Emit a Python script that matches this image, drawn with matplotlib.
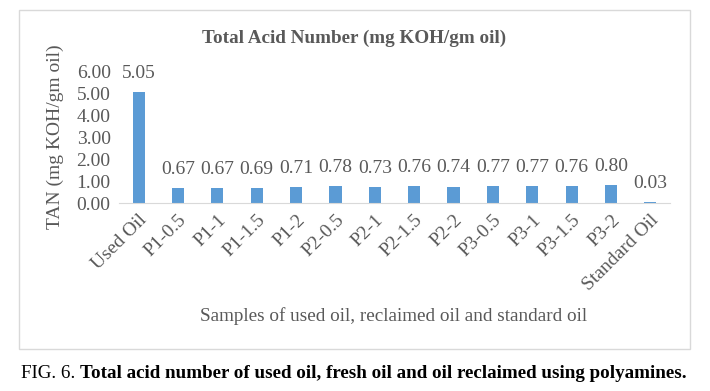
import matplotlib.pyplot as plt
from matplotlib.patches import Rectangle

# data
samples = ['Used Oil', 'P1-0.5', 'P1-1', 'P1-1.5', 'P1-2', 'P2-0.5', 'P2-1',
           'P2-1.5', 'P2-2', 'P3-0.5', 'P3-1', 'P3-1.5', 'P3-2', 'Standard Oil']
tan_values = [5.05, 0.67, 0.67, 0.69, 0.71, 0.78, 0.73,
              0.76, 0.74, 0.77, 0.77, 0.76, 0.80, 0.03]
y_ticks = [0, 1, 2, 3, 4, 5, 6]

W, H = 710, 391
plt.rcParams['font.family'] = 'Liberation Serif'
grey = '#595959'
blue = '#5B9BD5'
fs = 14

fig = plt.figure(figsize=(W / 100, H / 100), dpi=100)

def px(x0, y0, x1, y1):
    # pixel box (top-left origin) -> figure fraction [l, b, w, h]
    return [x0 / W, 1 - y1 / H, (x1 - x0) / W, (y1 - y0) / H]

# chart frame
fig.patches.append(Rectangle((19 / W, 1 - 349 / H), 671 / W, 339 / H,
                             transform=fig.transFigure, fill=False,
                             edgecolor='#D9D9D9', lw=1))

ax = fig.add_axes(px(119, 71, 670, 203))
x = range(len(samples))
bars = ax.bar(x, tan_values, width=0.31, color=blue)
ax.set_xlim(-0.5, len(samples) - 0.5)
ax.set_ylim(0, 6)

for xi, v in zip(x, tan_values):
    ax.annotate(f"{v:.2f}", (xi, v), xytext=(0, 13.5), textcoords='offset points',
                ha='center', va='center', fontsize=fs, color=grey)

ax.set_yticks(y_ticks)
ax.set_yticklabels([f"{t:.2f}" for t in y_ticks], fontsize=fs, color=grey)
ax.set_xticks(list(x))
ax.set_xticklabels(samples, rotation=45, ha='right', rotation_mode='anchor',
                   fontsize=fs, color=grey)
ax.tick_params(length=0, pad=6)
for s in ['top', 'right', 'left']:
    ax.spines[s].set_visible(False)
ax.spines['bottom'].set_color('#D9D9D9')

fig.text(55 / W, 1 - 137 / H, 'TAN (mg KOH/gm oil)', rotation=90, ha='center',
         va='center', fontsize=fs, color=grey)

fig.text(354 / W, 1 - 38 / H, 'Total Acid Number (mg KOH/gm oil)', ha='center',
         va='center', fontsize=13.8, fontweight='bold', color=grey)
fig.text(394 / W, 1 - 316 / H, 'Samples of used oil, reclaimed oil and standard oil',
         ha='center', va='center', fontsize=13.8, color=grey)

# caption below the chart
cap_fs = 13.7
t1 = fig.text(21 / W, 1 - 374 / H, 'FIG. 6. ', ha='left', va='center',
              fontsize=cap_fs, color='black')
fig.canvas.draw()
bb = t1.get_window_extent()
fig.text(bb.x1 / W, 1 - 374 / H,
         'Total acid number of used oil, fresh oil and oil reclaimed using polyamines.',
         ha='left', va='center', fontsize=cap_fs, fontweight='bold', color='black')

fig.savefig('out.png', dpi=100)
